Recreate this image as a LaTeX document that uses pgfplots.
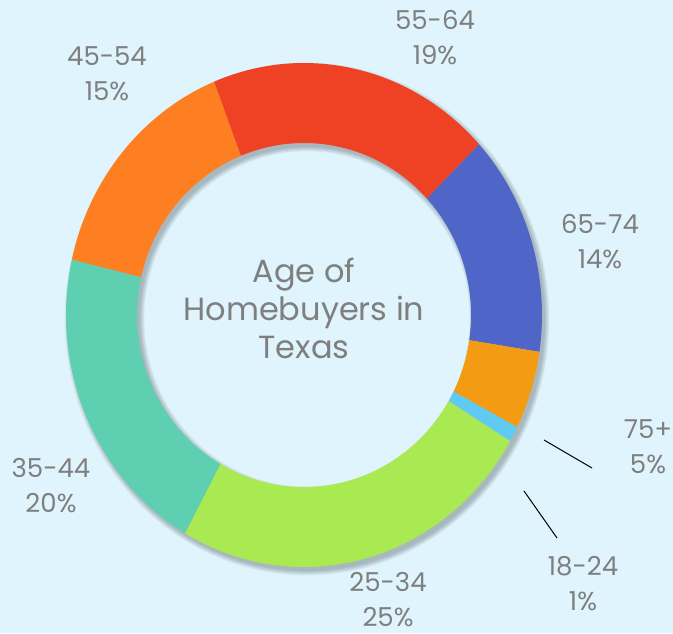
\documentclass[border=0pt]{standalone}
\usepackage{pgfplots}
\usepackage{pgfplotstable}
\pgfplotsset{compat=1.18}
\usepackage{fontspec}
\setmainfont{Poppins}
\definecolor{bg}{RGB}{223,244,252}
\definecolor{txt}{RGB}{127,127,127}
\definecolor{c65}{RGB}{79,102,200}
\definecolor{c75}{RGB}{243,156,19}
\definecolor{c18}{RGB}{95,203,243}
\definecolor{c25}{RGB}{169,234,82}
\definecolor{c35}{RGB}{94,207,177}
\definecolor{c45}{RGB}{254,127,33}
\definecolor{c55}{RGB}{239,65,36}

% share of homebuyers by age, clockwise from the 65-74 slice
\pgfplotstableread{
group pct col
65-74 14.2 c65
75+   5.0  c75
18-24 1.0  c18
25-34 25.0 c25
35-44 20.2 c35
45-54 15.3 c45
55-64 19.3 c55
}\donut

\begin{document}
\begin{tikzpicture}
\begin{axis}[
  width=336.5pt, height=316.5pt, scale only axis,
  xmin=0, xmax=673, ymin=0, ymax=633,
  axis lines=none, clip=false,
  ]
% background
\fill[bg] (axis cs:0,0) rectangle (axis cs:673,633);
% soft shadow of the ring
\foreach \k in {1,...,6}{%
  \edef\temp{\noexpand\fill[black, opacity=0.045, even odd rule, overlay]
    (axis cs:307,314) ellipse[x radius={(237+\k*0.9)*0.5pt}, y radius={(251+\k*0.9)*0.5pt}]
    (axis cs:307,314) ellipse[x radius={(168-\k*0.9)*0.5pt}, y radius={(173-\k*0.9)*0.5pt}];}
  \temp
}
% slices
\pgfplotstablegetrowsof{\donut}
\pgfmathtruncatemacro\N{\pgfplotsretval-1}
\gdef\angstart{42.7}
\pgfplotsforeachungrouped \i in {0,...,\N}{%
  \pgfplotstablegetelem{\i}{pct}\of\donut \let\p\pgfplotsretval
  \pgfplotstablegetelem{\i}{col}\of\donut \let\c\pgfplotsretval
  \pgfmathsetmacro\angend{\angstart-3.6*\p}
  \pgfmathsetmacro\xa{304+238*cos(\angstart)}
  \pgfmathsetmacro\ya{318+252*sin(\angstart)}
  \pgfmathsetmacro\xb{304+167*cos(\angend)}
  \pgfmathsetmacro\yb{318+172*sin(\angend)}
  \edef\temp{\noexpand\fill[\c] (axis cs:\xa,\ya)
    arc[start angle=\angstart, end angle=\angend, x radius=119pt, y radius=126pt]
    -- (axis cs:\xb,\yb)
    arc[start angle=\angend, end angle=\angstart, x radius=83.5pt, y radius=86pt] -- cycle;}
  \temp
  \global\let\angstart\angend
}
% leader lines
\draw[black, line width=0.5pt] (axis cs:544,193) -- (axis cs:592,165);
\draw[black, line width=0.5pt] (axis cs:524,142) -- (axis cs:557,95);
% labels
\tikzset{lab/.style={text=txt, align=center, overlay, font=\fontsize{13}{17.5}\selectfont}}
\node[lab] at (axis cs:435,595) {55-64\\19\%};
\node[lab] at (axis cs:107,559) {45-54\\15\%};
\node[lab] at (axis cs:600,391) {65-74\\14\%};
\node[lab] at (axis cs:648,186) {75+\\5\%};
\node[lab] at (axis cs:583,49) {18-24\\1\%};
\node[lab] at (axis cs:388,33) {25-34\\25\%};
\node[lab] at (axis cs:51,147) {35-44\\20\%};
\node[text=txt, align=center, overlay, font=\fontsize{16}{19}\selectfont] at (axis cs:304,325)
  {Age of\\Homebuyers in\\Texas};
\end{axis}
\end{tikzpicture}
\end{document}
